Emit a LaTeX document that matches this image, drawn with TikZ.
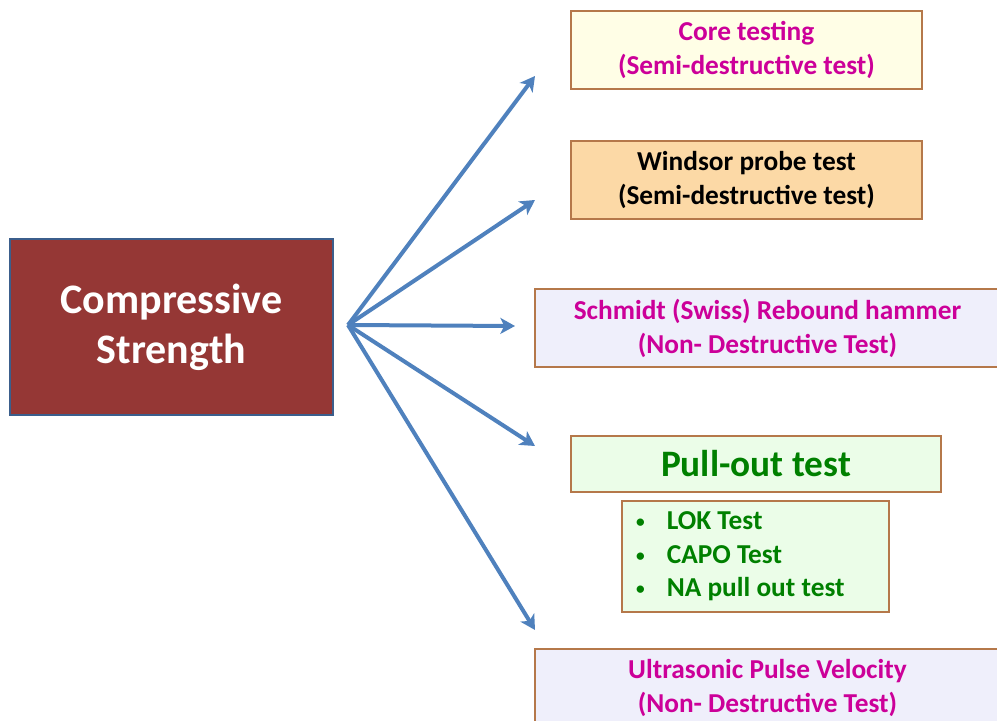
\documentclass[tikz,border=0pt]{standalone}
\usepackage{fontspec}
\setmainfont{Carlito}
\usetikzlibrary{arrows.meta}
\definecolor{mainred}{HTML}{953735}
\definecolor{mainborder}{HTML}{3B5E8C}
\definecolor{boxborder}{HTML}{B5784A}
\definecolor{arrowblue}{HTML}{4F81BD}
\definecolor{magentatext}{HTML}{CC0099}
\definecolor{greentext}{HTML}{008000}
\definecolor{fillyellow}{HTML}{FFFEE6}
\definecolor{fillorange}{HTML}{FCD9A6}
\definecolor{filllav}{HTML}{EFEFFB}
\definecolor{fillgreen}{HTML}{EBFDE8}
\newcommand{\smallbul}{\makebox[23pt][l]{\raisebox{1.5pt}{\fontsize{13}{13}\selectfont•}}}
\tikzset{
  testbox/.style={draw=boxborder, line width=1.2pt, inner sep=0pt, align=center, font=\bfseries\fontsize{20.5}{25.5}\selectfont},
  conn/.style={draw=arrowblue, line width=3pt, -{Stealth[length=11pt,width=12pt,inset=3pt]}},
}
\begin{document}
\begin{tikzpicture}[x=0.75pt,y=-0.75pt]
\useasboundingbox (0,0) rectangle (997,721);
\node[draw=mainborder, line width=1.3pt, fill=mainred, text=white, minimum width=323*0.75pt, minimum height=176*0.75pt, align=center, font=\bfseries\fontsize{31.5}{37.5}\selectfont] (cs) at (171.5,327) {Compressive\\Strength};
\coordinate (hub) at (348,325);
\node[testbox, fill=fillyellow, text=magentatext, minimum width=351*0.75pt, minimum height=78*0.75pt] (core) at (746.5,50) {Core testing\\(Semi-destructive test)};
\node[testbox, fill=fillorange, text=black, minimum width=351*0.75pt, minimum height=78*0.75pt] (wind) at (746.5,180) {Windsor probe test\\(Semi-destructive test)};
\node[testbox, fill=filllav, text=magentatext, minimum width=465*0.75pt, minimum height=78*0.75pt] (schm) at (767.5,328) {Schmidt (Swiss) Rebound hammer\\(Non- Destructive Test)};
\node[testbox, fill=fillgreen, text=greentext, minimum width=370*0.75pt, minimum height=56*0.75pt, font=\bfseries\fontsize{28}{32}\selectfont] (pull) at (756,464) {Pull-out test};
\node[draw=boxborder, line width=1.2pt, fill=fillgreen, minimum width=267*0.75pt, minimum height=111*0.75pt] (list) at (755.5,556.5) {};
\node[anchor=west, inner sep=0pt, text=greentext, align=left, font=\bfseries\fontsize{20.5}{25}\selectfont] (items) at ([xshift=11pt,yshift=0pt]list.west) {%
\smallbul LOK Test\\
\smallbul CAPO Test\\
\smallbul NA pull out test};
\node[testbox, fill=filllav, text=magentatext, minimum width=465*0.75pt, minimum height=78*0.75pt] (ultra) at (767.5,688) {Ultrasonic Pulse Velocity\\(Non- Destructive Test)};
\coordinate (t1) at (535,76);
\coordinate (t2) at (535,200);
\coordinate (t3) at (515,326);
\coordinate (t4) at (535,446);
\coordinate (t5) at (535,630);
\draw[conn] (hub) -- (t1);
\draw[conn] (hub) -- (t2);
\draw[conn] (hub) -- (t3);
\draw[conn] (hub) -- (t4);
\draw[conn] (hub) -- (t5);
\end{tikzpicture}
\end{document}
